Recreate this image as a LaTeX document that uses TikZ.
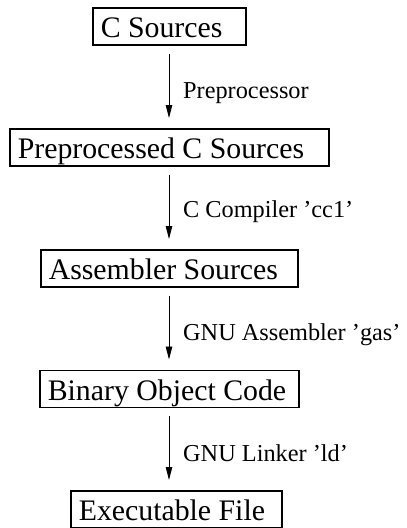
\documentclass[tikz,border=0pt]{standalone}
\usepackage{fontspec}
\setmainfont{Liberation Serif}
\usetikzlibrary{arrows.meta}
\newcommand{\leftin}[2]{\makebox[#1][l]{#2}}
\begin{document}
\begin{tikzpicture}[x=1pt,y=-1pt,
  stagebox/.style={draw, line width=1.6pt, anchor=north west, inner xsep=8pt, inner ysep=0pt,
    minimum height=37pt, text height=23pt, text depth=0pt,
    font=\fontsize{29.8}{34}\selectfont},
  steplabel/.style={anchor=base west, inner sep=0pt, font=\fontsize{24.3}{28}\selectfont},
  flow/.style={line width=0.9pt, -{Triangle[length=13pt,width=6.5pt]}, shorten <=8pt, shorten >=10pt}]
\useasboundingbox (0,0) rectangle (407,528);
\coordinate (axis) at (169,0);
\node[stagebox] (b1) at (92,7) {\leftin{137pt}{C Sources}};
\node[stagebox] (b2) at (9,128) {\leftin{303pt}{Preprocessed C Sources}};
\node[stagebox] (b3) at (40,249) {\leftin{241pt}{Assembler Sources}};
\node[stagebox] (b4) at (39,369.5) {\leftin{243pt}{Binary Object Code}};
\node[stagebox] (b5) at (70,490) {\leftin{195pt}{Executable File}};
\draw[flow] (b1.south -| axis) -- (b2.north -| axis);
\draw[flow] (b2.south -| axis) -- (b3.north -| axis);
\draw[flow] (b3.south -| axis) -- (b4.north -| axis);
\draw[flow] (b4.south -| axis) -- (b5.north -| axis);
\node[steplabel] (l1) at (183,98) {Preprocessor};
\node[steplabel] (l2) at (183,217) {C Compiler 'cc1'};
\node[steplabel] (l3) at (183,340) {GNU Assembler 'gas'};
\node[steplabel] (l4) at (183,461) {GNU Linker 'ld'};
\end{tikzpicture}
\end{document}
